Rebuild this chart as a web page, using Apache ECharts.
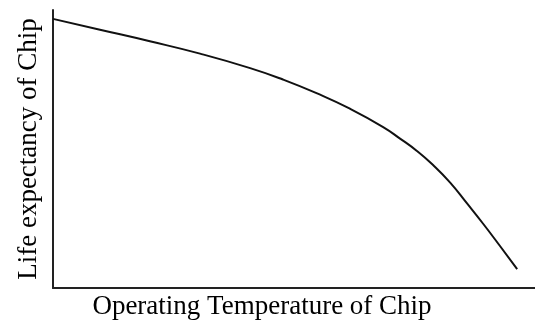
<!DOCTYPE html>
<html>
<head>
<meta charset="utf-8">
<script src="https://cdn.jsdelivr.net/npm/echarts@6/dist/echarts.min.js"></script>
<style>
  html, body { margin: 0; padding: 0; background: #fff; }
  #chart { width: 535px; height: 325px; }
</style>
</head>
<body>
<div id="chart"></div>
<script>
// Relative operating temperature (x) against relative life expectancy (y)
const temperature = [0, 9.75, 20.1, 30.5, 40.9, 47.7, 54.8, 61.6, 68.5, 72.0, 75.5, 78.8, 82.4, 85.9, 89.2, 92.7, 96.3];
const lifeExpectancy = [96.8, 92.9, 88.75, 84.3, 79.1, 75.0, 70.0, 64.5, 57.9, 53.75, 49.3, 44.3, 37.9, 30.4, 23.2, 15.2, 6.8];
const xTitle = 'Operating Temperature of Chip';
const yTitle = 'Life expectancy of Chip';

const points = temperature.map((t, i) => [t, lifeExpectancy[i]]);
const font = '"Liberation Serif", "DejaVu Serif", serif';

const chart = echarts.init(document.getElementById('chart'), null, { renderer: 'canvas' });
chart.setOption({
  animation: false,
  backgroundColor: '#ffffff',
  grid: { left: 53, right: 0, top: 10, bottom: 35 },
  xAxis: {
    type: 'value', min: 0, max: 100,
    name: xTitle, nameLocation: 'middle', nameGap: 5,
    nameTextStyle: { fontFamily: font, fontSize: 27, color: '#000', padding: [0, 64, 0, 0] },
    axisLine: { show: true, lineStyle: { color: '#222', width: 2 } },
    axisTick: { show: false }, axisLabel: { show: false }, splitLine: { show: false }
  },
  yAxis: {
    type: 'value', min: 0, max: 100,
    name: yTitle, nameLocation: 'middle', nameGap: 11,
    nameTextStyle: { fontFamily: font, fontSize: 27, color: '#000' },
    axisLine: { show: true, lineStyle: { color: '#222', width: 2 } },
    axisTick: { show: false }, axisLabel: { show: false }, splitLine: { show: false }
  },
  series: [{
    type: 'line',
    data: points,
    smooth: 0.5,
    symbol: 'none',
    lineStyle: { color: '#111', width: 2 }
  }]
});
</script>
</body>
</html>
